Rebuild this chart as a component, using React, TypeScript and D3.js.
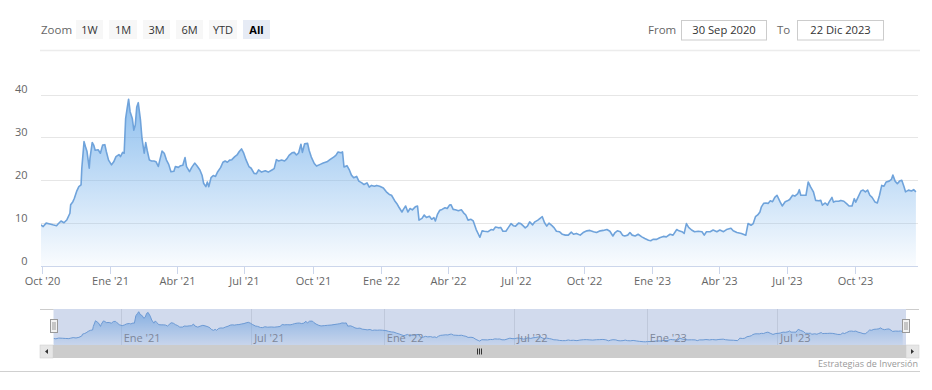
import React from 'react';
import * as d3 from 'd3';

const BASE_DATE = '2020-10-01';
// days after BASE_DATE for each sample
const dayOffsets = [
  -1, 2, 6, 11, 15, 20, 22, 26, 30, 34, 38, 39, 42, 44, 47, 50, 53, 54, 57, 59,
  61, 64, 65, 68, 70, 72, 76, 79, 82, 85, 87, 90, 94, 97, 100, 104, 106, 109, 111, 113,
  115, 117, 119, 122, 124, 126, 128, 130, 133, 135, 138, 140, 142, 145, 148, 151, 154, 157, 159, 162,
  165, 168, 171, 174, 178, 180, 184, 187, 190, 193, 195, 199, 202, 206, 209, 213, 216, 218, 221, 223,
  225, 228, 231, 234, 237, 241, 244, 247, 250, 253, 256, 260, 263, 266, 269, 272, 275, 279, 282, 286,
  289, 292, 296, 301, 305, 310, 313, 316, 319, 323, 327, 330, 333, 337, 340, 343, 346, 349, 351, 354,
  358, 360, 363, 367, 370, 375, 379, 384, 388, 393, 396, 399, 403, 405, 407, 411, 414, 417, 420, 424,
  427, 431, 434, 438, 441, 444, 448, 451, 455, 460, 464, 468, 471, 475, 478, 481, 485, 487, 490, 493,
  496, 499, 503, 506, 508, 512, 515, 518, 522, 525, 528, 530, 533, 536, 539, 543, 546, 549, 551, 554,
  557, 561, 565, 568, 571, 574, 578, 581, 585, 588, 590, 593, 596, 601, 605, 608, 611, 615, 618, 621,
  625, 628, 632, 635, 638, 642, 645, 648, 651, 654, 657, 661, 664, 668, 671, 674, 677, 680, 683, 687,
  690, 693, 697, 701, 705, 709, 713, 716, 720, 725, 729, 734, 738, 743, 747, 752, 756, 761, 765, 769,
  772, 775, 779, 782, 785, 789, 792, 795, 799, 803, 808, 812, 817, 820, 823, 828, 832, 837, 841, 846,
  850, 855, 858, 862, 865, 868, 871, 875, 879, 884, 889, 892, 895, 900, 904, 909, 913, 918, 922, 928,
  931, 936, 942, 948, 951, 955, 958, 961, 964, 967, 969, 972, 975, 978, 981, 984, 987, 990, 994, 997,
  1001, 1004, 1007, 1011, 1014, 1018, 1020, 1022, 1025, 1029, 1032, 1035, 1039, 1042, 1046, 1049, 1051, 1055, 1058, 1060,
  1064, 1066, 1069, 1073, 1076, 1080, 1084, 1087, 1091, 1094, 1096, 1099, 1103, 1106, 1109, 1112, 1115, 1118, 1122, 1125,
  1128, 1131, 1134, 1137, 1141, 1144, 1146, 1149, 1152, 1155, 1158, 1161, 1163, 1167, 1171, 1174, 1177,
];
const values = [
  9.6, 9.2, 10.0, 9.8, 9.6, 9.4, 9.8, 10.5, 10.1, 10.8, 12.3, 14.3, 15.0, 15.8, 17.4, 18.5, 18.9, 22.8, 29.0, 27.8,
  26.7, 22.8, 25.1, 28.8, 28.2, 27.0, 27.1, 26.3, 28.2, 28.3, 26.7, 24.7, 23.6, 24.3, 25.5, 26.0, 25.5, 26.5, 26.3, 34.4,
  36.7, 38.9, 36.0, 34.4, 31.7, 32.9, 37.1, 38.1, 34.0, 29.8, 26.3, 28.8, 27.0, 24.7, 24.5, 24.5, 24.3, 23.2, 24.7, 26.8,
  26.3, 24.7, 23.7, 22.0, 22.1, 23.2, 23.0, 23.4, 23.5, 25.3, 23.2, 22.0, 23.0, 24.0, 23.4, 22.4, 21.1, 19.3, 18.5, 19.6,
  18.5, 20.6, 21.1, 20.9, 22.0, 23.0, 24.2, 24.5, 24.2, 24.7, 24.8, 25.5, 25.9, 26.7, 27.3, 26.3, 24.8, 23.2, 22.8, 21.6,
  21.5, 22.4, 21.9, 22.2, 21.9, 22.4, 22.7, 24.8, 24.5, 24.7, 24.5, 25.0, 25.8, 26.4, 26.5, 25.9, 26.4, 28.4, 26.5, 28.5,
  28.6, 27.0, 25.4, 23.9, 23.3, 23.7, 24.0, 24.3, 24.8, 25.4, 25.8, 26.6, 26.4, 26.6, 23.1, 23.4, 22.5, 21.2, 20.6, 20.9,
  19.8, 19.4, 19.0, 19.4, 18.4, 18.8, 18.6, 18.8, 18.6, 18.2, 17.3, 16.7, 16.5, 15.3, 14.6, 13.7, 12.6, 13.2, 14.0, 12.6,
  13.4, 13.1, 13.8, 14.0, 10.7, 11.1, 11.9, 11.3, 11.6, 10.9, 11.3, 10.5, 12.1, 13.0, 13.2, 13.6, 13.4, 14.2, 14.3, 13.2,
  13.1, 12.9, 13.1, 12.4, 11.9, 10.7, 10.9, 10.5, 8.5, 7.4, 6.7, 8.2, 8.1, 8.0, 8.5, 8.4, 9.1, 8.9, 9.0, 8.1,
  8.1, 8.9, 9.9, 9.4, 9.3, 10.0, 9.9, 9.4, 8.9, 9.3, 10.3, 9.6, 10.3, 10.7, 11.1, 11.5, 10.1, 9.3, 10.0, 9.4,
  8.9, 8.1, 8.0, 7.4, 7.2, 7.2, 7.9, 7.4, 7.6, 7.2, 7.8, 8.2, 8.3, 8.0, 7.8, 8.2, 8.3, 8.5, 8.1, 7.0,
  7.8, 8.2, 8.0, 7.2, 7.0, 7.2, 7.8, 7.2, 7.0, 7.4, 6.8, 6.4, 6.0, 5.9, 6.2, 6.2, 6.6, 6.9, 6.8, 7.4,
  7.2, 8.5, 8.2, 8.0, 7.6, 9.9, 9.0, 8.4, 8.0, 8.1, 8.0, 7.2, 8.0, 8.0, 8.4, 8.0, 8.4, 8.0, 8.5, 8.8,
  8.2, 7.8, 7.6, 7.2, 9.9, 9.5, 9.9, 11.5, 11.9, 12.6, 13.8, 14.6, 14.7, 14.6, 15.2, 15.0, 16.0, 16.5, 15.0, 14.0,
  15.0, 15.2, 15.5, 16.5, 16.3, 16.9, 17.8, 16.5, 16.5, 16.5, 19.6, 18.5, 17.3, 15.3, 15.2, 15.3, 14.2, 14.7, 14.2, 14.9,
  16.0, 14.9, 15.1, 15.1, 15.3, 15.1, 14.5, 14.0, 14.0, 15.7, 14.9, 16.0, 17.5, 17.7, 17.3, 17.7, 16.5, 16.0, 14.9, 14.7,
  16.5, 18.8, 18.6, 19.6, 19.8, 20.2, 21.2, 19.8, 19.2, 19.8, 20.0, 18.5, 17.3, 17.7, 17.5, 17.8, 17.3,
];

const yTicks = [0, 10, 20, 30, 40];
const xTickDates = ['2020-10-01', '2021-01-01', '2021-04-01', '2021-07-01', '2021-10-01', '2022-01-01', '2022-04-01', '2022-07-01', '2022-10-01', '2023-01-01', '2023-04-01', '2023-07-01', '2023-10-01'];
const xTickLabels = ["Oct '20", "Ene '21", "Abr '21", "Jul '21", "Oct '21", "Ene '22", "Abr '22", "Jul '22", "Oct '22", "Ene '23", "Abr '23", "Jul '23", "Oct '23"];
const navTickDates = ['2021-01-01', '2021-07-01', '2022-01-01', '2022-07-01', '2023-01-01', '2023-07-01'];
const navTickLabels = ["Ene '21", "Jul '21", "Ene '22", "Jul '22", "Ene '23", "Jul '23"];
const zoomButtons = ['1W', '1M', '3M', '6M', 'YTD', 'All'];
const selectedButton = 'All';
const fromLabel = 'From';
const toLabel = 'To';
const fromDate = '30 Sep 2020';
const toDate = '22 Dic 2023';
const credits = 'Estrategias de Inversión';

const FONT = '"Open Sans", "Noto Sans", Arial, sans-serif';

export default function App() {
  const parse = d3.timeParse('%Y-%m-%d');
  const base = parse(BASE_DATE) as Date;
  const data = dayOffsets.map((d, i) => ({ date: d3.timeDay.offset(base, d), value: values[i] }));

  const plotL = 41, plotR = 918, plotTop = 55, plotBottom = 266;
  const x = d3.scaleTime().domain([parse('2020-10-01') as Date, parse('2023-10-01') as Date]).range([41.7, 855]);
  const y = d3.scaleLinear().domain([0, 40]).range([266, 94.5]);

  const area = d3.area<any>().x(d => x(d.date)).y0(y(0)).y1(d => y(d.value));
  const line = d3.line<any>().x(d => x(d.date)).y(d => y(d.value));

  // navigator
  const navTop = 309, navBottom = 345, navL = 40, navR = 919;
  const nx = d3.scaleTime().domain([parse('2020-10-01') as Date, parse('2023-10-01') as Date]).range([54.4, 843.6]);
  const ny = d3.scaleLinear().domain([0, 40]).range([347.2, 310.7]);
  const navArea = d3.area<any>().x(d => nx(d.date)).y0(navBottom).y1(d => ny(d.value));
  const navLine = d3.line<any>().x(d => nx(d.date)).y(d => ny(d.value));
  const maskL = 53.5, maskR = 906;

  const btnX = [76, 109, 143, 176, 209, 243];
  const btnW = [27, 28, 27, 27, 28, 27];

  return (
    <div style={{ position: 'absolute', left: 0, top: 0, width: 932, height: 390, background: '#fff' }}>
      <svg width={932} height={390} style={{ display: 'block', fontFamily: FONT }}>
        <defs>
          <linearGradient id="areaGrad" x1="0" y1="0" x2="0" y2="1">
            <stop offset="0" stopColor="#7cb5ec" stopOpacity={0.85} />
            <stop offset="1" stopColor="#7cb5ec" stopOpacity={0.04} />
          </linearGradient>
          <linearGradient id="navGrad" x1="0" y1="0" x2="0" y2="1">
            <stop offset="0" stopColor="#7cb5ec" stopOpacity={0.8} />
            <stop offset="1" stopColor="#7cb5ec" stopOpacity={0.1} />
          </linearGradient>
          <clipPath id="plotClip"><rect x={plotL} y={plotTop} width={plotR - plotL} height={plotBottom - plotTop + 1} /></clipPath>
          <clipPath id="navClip"><rect x={maskL} y={navTop} width={maskR - maskL} height={navBottom - navTop} /></clipPath>
        </defs>
        <rect x={0} y={0} width={932} height={390} fill="#fff" />

        {/* range selector */}
        <text x={41} y={34} fontSize={11.5} fill="#666">Zoom</text>
        {zoomButtons.map((b, i) => (
          <g key={b}>
            <rect x={btnX[i]} y={20} width={btnW[i]} height={19} fill={b === selectedButton ? '#e6ebf5' : '#f7f7f7'} />
            <text x={btnX[i] + btnW[i] / 2} y={33.5} textAnchor="middle" fontSize={11} fill={b === selectedButton ? '#000' : '#333'} fontWeight={b === selectedButton ? 'bold' : 'normal'}>{b}</text>
          </g>
        ))}
        <text x={648} y={34} fontSize={11.5} fill="#666">{fromLabel}</text>
        <rect x={681.5} y={20.5} width={85} height={19.5} fill="#fff" stroke="#cccccc" />
        <text x={724} y={34} textAnchor="middle" fontSize={11.2} fill="#333">{fromDate}</text>
        <text x={777} y={34} fontSize={11.5} fill="#666">{toLabel}</text>
        <rect x={797.5} y={20.5} width={86} height={19.5} fill="#fff" stroke="#cccccc" />
        <text x={840.5} y={34} textAnchor="middle" fontSize={11.2} fill="#333">{toDate}</text>
        <line x1={40} x2={920} y1={50.5} y2={50.5} stroke="#ececec" strokeWidth={1.5} />

        {/* grid */}
        {yTicks.filter(t => t > 0).map(t => (
          <line key={t} x1={plotL} x2={plotR} y1={Math.round(y(t)) + 0.5} y2={Math.round(y(t)) + 0.5} stroke="#e6e6e6" />
        ))}
        {yTicks.map(t => (
          <text key={'l' + t} x={27.5} y={y(t) - 1.5} textAnchor="end" fontSize={11} fill="#666">{t}</text>
        ))}

        {/* series */}
        <g clipPath="url(#plotClip)">
          <path d={area(data) as string} fill="url(#areaGrad)" />
          <path d={line(data) as string} fill="none" stroke="#6fa3db" strokeWidth={1.6} strokeLinejoin="round" />
        </g>

        {/* x axis */}
        <line x1={plotL} x2={plotR} y1={266.5} y2={266.5} stroke="#ccd6eb" />
        {xTickDates.map((d, i) => {
          const px = Math.round(x(parse(d) as Date)) + 0.5;
          return (
            <g key={d}>
              <line x1={px} x2={px} y1={266.5} y2={274} stroke="#ccd6eb" />
              <text x={px} y={285} textAnchor="middle" fontSize={11} fill="#666">{xTickLabels[i]}</text>
            </g>
          );
        })}

        {/* navigator */}
        <line x1={navL} x2={maskL} y1={navTop + 0.5} y2={navTop + 0.5} stroke="#cccccc" />
        <line x1={maskR} x2={navR} y1={navTop + 0.5} y2={navTop + 0.5} stroke="#cccccc" />
        {navTickDates.map(d => {
          const px = Math.round(nx(parse(d) as Date)) + 0.5;
          return <line key={d} x1={px} x2={px} y1={navTop} y2={navBottom} stroke="#e6e6e6" />;
        })}
        <g clipPath="url(#navClip)">
          <path d={navArea(data) as string} fill="url(#navGrad)" />
          <path d={navLine(data) as string} fill="none" stroke="#6fa3db" strokeWidth={1} />
        </g>
        {navTickDates.map((d, i) => {
          const px = nx(parse(d) as Date);
          return <text key={'n' + d} x={px + 3} y={342} fontSize={11} fill="#888">{navTickLabels[i]}</text>;
        })}
        <rect x={maskL} y={navTop} width={maskR - maskL} height={navBottom - navTop} fill="rgba(102,133,194,0.3)" />
        {/* handles */}
        {[maskL, maskR].map((hx, i) => (
          <g key={'h' + i}>
            <rect x={Math.round(hx) - 3.5} y={319.5} width={7} height={13} fill="#f2f2f2" stroke="#999999" />
            <line x1={Math.round(hx) - 1} x2={Math.round(hx) - 1} y1={322} y2={330} stroke="#999" />
            <line x1={Math.round(hx) + 1} x2={Math.round(hx) + 1} y1={322} y2={330} stroke="#999" />
          </g>
        ))}

        {/* scrollbar */}
        <rect x={navL} y={345} width={navR - navL} height={13} fill="#f2f2f2" />
        <rect x={navL + 13} y={345} width={navR - navL - 26} height={13} fill="#cccccc" />
        <rect x={navL} y={345} width={13} height={13} fill="#e6e6e6" stroke="#cccccc" strokeWidth={0.5} />
        <rect x={navR - 13} y={345} width={13} height={13} fill="#e6e6e6" stroke="#cccccc" strokeWidth={0.5} />
        <path d={`M${navL + 5},351.5 L${navL + 8},349 L${navL + 8},354 Z`} fill="#333" />
        <path d={`M${navR - 5},351.5 L${navR - 8},349 L${navR - 8},354 Z`} fill="#333" />
        {[-2, 0, 2].map(o => (
          <line key={o} x1={479.5 + o} x2={479.5 + o} y1={348.5} y2={354.5} stroke="#333" />
        ))}

        <text x={918} y={367} textAnchor="end" fontSize={9} fill="#999">{credits}</text>
        <line x1={0} x2={920} y1={371.5} y2={371.5} stroke="#d0d0d0" />
      </svg>
    </div>
  );
}
